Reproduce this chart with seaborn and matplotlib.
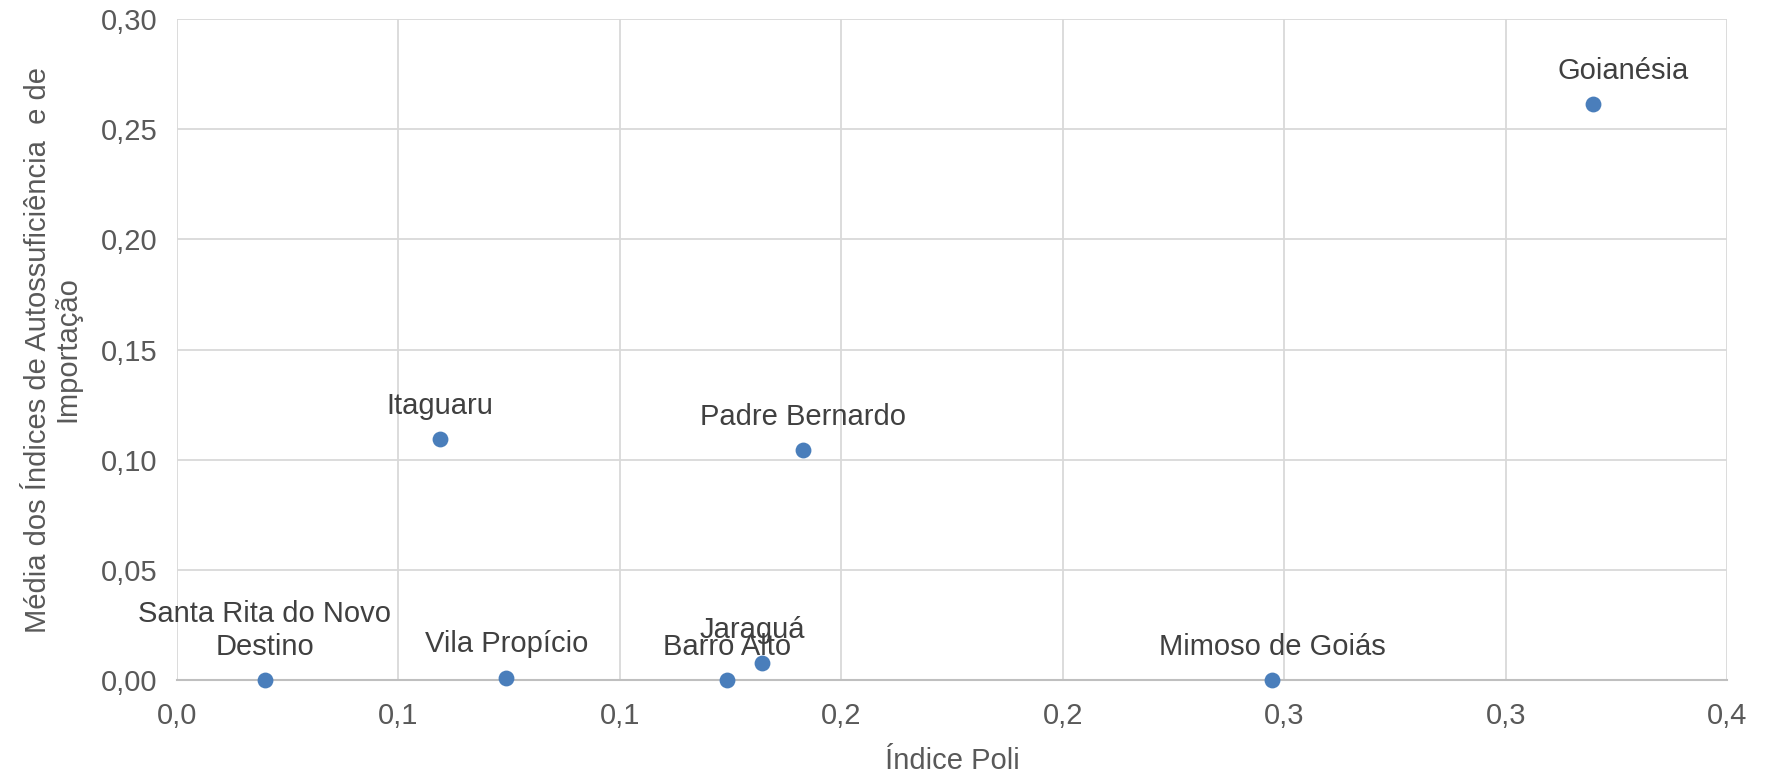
import matplotlib
matplotlib.use("Agg")
import matplotlib.pyplot as plt
import seaborn as sns
import pandas as pd

# dados
municipios = ['Santa Rita do Novo\nDestino', 'Itaguaru', 'Vila Propício', 'Barro Alto',
              'Jaraguá', 'Padre Bernardo', 'Mimoso de Goiás', 'Goianésia']
indice_poli = [0.0198, 0.0594, 0.0744, 0.1242, 0.1320, 0.1414, 0.2473, 0.3197]
media_indices = [0.0, 0.1094, 0.0010, 0.0, 0.0077, 0.1043, 0.0, 0.2612]

x_ticks = [0.0, 0.05, 0.10, 0.15, 0.20, 0.25, 0.30, 0.35]
x_tick_labels = ['0,0', '0,1', '0,1', '0,2', '0,2', '0,3', '0,3', '0,4']
y_ticks = [0.0, 0.05, 0.10, 0.15, 0.20, 0.25, 0.30]
y_tick_labels = ['0,00', '0,05', '0,10', '0,15', '0,20', '0,25', '0,30']

# rótulos deslocados à mão (em pontos)
label_dx = {'Goianésia': 22, 'Jaraguá': -7}

df = pd.DataFrame({'municipio': municipios, 'poli': indice_poli, 'media': media_indices})

sns.set_theme(style='whitegrid')
plt.rcParams['font.family'] = ['Liberation Sans', 'DejaVu Sans']

fig = plt.figure(figsize=(17.66, 7.72), dpi=100)
ax = fig.add_axes([0.1002, 0.119, 0.8778, 0.8564])

sns.scatterplot(data=df, x='poli', y='media', ax=ax, color='#4a7ebb', s=130,
                edgecolor='#4a7ebb', linewidth=0, zorder=3, clip_on=False)

for _, r in df.iterrows():
    ax.annotate(r['municipio'], (r['poli'], r['media']),
                xytext=(label_dx.get(r['municipio'], 0), 14),
                textcoords='offset points', ha='center', va='bottom',
                fontsize=21, color='#404040', linespacing=1.2)

ax.set_xlim(0, 0.35)
ax.set_ylim(0, 0.30)
ax.set_xticks(x_ticks)
ax.set_xticklabels(x_tick_labels)
ax.set_yticks(y_ticks)
ax.set_yticklabels(y_tick_labels)
ax.tick_params(axis='x', labelsize=21, colors='#595959', length=0, pad=16)
ax.tick_params(axis='y', labelsize=21, colors='#595959', length=0, pad=14)

ax.grid(True, color='#d9d9d9', linewidth=1.3)
for side in ['top', 'right', 'left']:
    ax.spines[side].set_visible(False)
ax.spines['bottom'].set_color('#bfbfbf')
ax.spines['bottom'].set_linewidth(1.5)
ax.spines['bottom'].set_zorder(2)

ax.set_xlabel('Índice Poli', fontsize=21, color='#595959', labelpad=12)
ax.set_ylabel('Média dos Índices de Autossuficiência  e de\nImportação', fontsize=21,
              color='#595959', labelpad=14, linespacing=1.05)

fig.savefig('out.png', dpi=100)
